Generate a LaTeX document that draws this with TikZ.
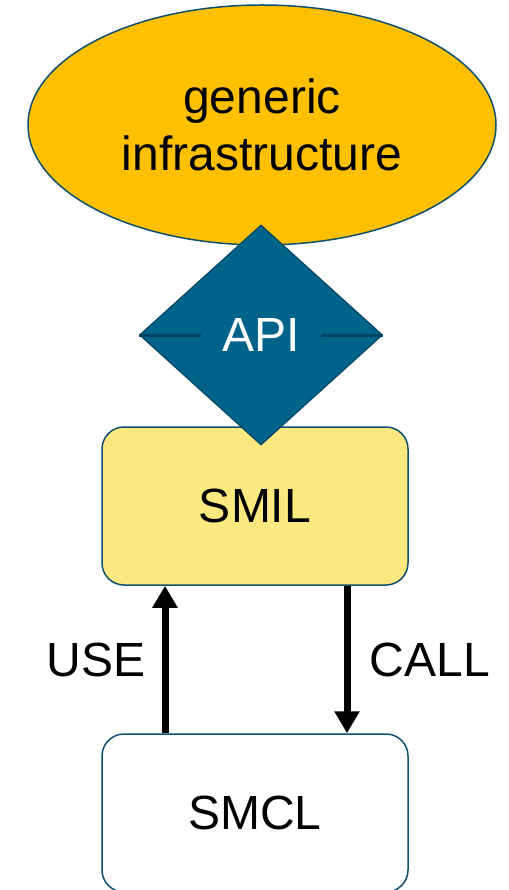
\documentclass[tikz,border=0pt]{standalone}
\usepackage{fontspec}
\setmainfont{Liberation Sans}
\usetikzlibrary{shapes.geometric,arrows.meta}
\definecolor{gold}{RGB}{255,192,0}
\definecolor{petrol}{RGB}{0,99,138}
\definecolor{petroldark}{RGB}{0,70,100}
\definecolor{edge}{RGB}{14,80,110}
\definecolor{paleyellow}{RGB}{251,232,126}
\tikzset{
  bigtext/.style={font=\fontsize{48}{57}\selectfont,align=center},
  layer/.style={bigtext,draw=edge,line width=1.5pt,rounded corners=22pt,minimum width=306pt,minimum height=158pt,inner sep=0pt},
  flow/.style={line width=7pt,-{Triangle[width=24pt,length=22pt]}}
}
\begin{document}
\begin{tikzpicture}[x=1pt,y=-1pt]
            \useasboundingbox (0,0) rectangle (508,890);
            \node[ellipse,bigtext,draw=edge,line width=1.5pt,fill=gold,minimum width=468pt,minimum height=240pt,inner sep=0pt] (infra) at (262,125) {generic\\infrastructure};
            \node[layer,fill=paleyellow] (smil) at (255,506) {SMIL};
            \node[layer,fill=white] (smcl) at (255,813) {SMCL};
            \node[diamond,bigtext,text=white,draw=petroldark,line width=1.2pt,fill=petrol,minimum width=243pt,minimum height=220pt,inner sep=0pt] (api) at (261,335) {API};
            \draw[petroldark,line width=3pt] (api.west) -- ++(62,0);
            \draw[petroldark,line width=3pt] (api.east) -- ++(-62,0);
            \draw[flow] ([xshift=-90pt]smcl.north) -- ([xshift=-90pt]smil.south) node[midway,left=13pt,bigtext] (use) {USE};
            \draw[flow] ([xshift=92pt]smil.south) -- ([xshift=92pt]smcl.north) node[midway,right=16pt,bigtext] (call) {CALL};
        \end{tikzpicture}
\end{document}
